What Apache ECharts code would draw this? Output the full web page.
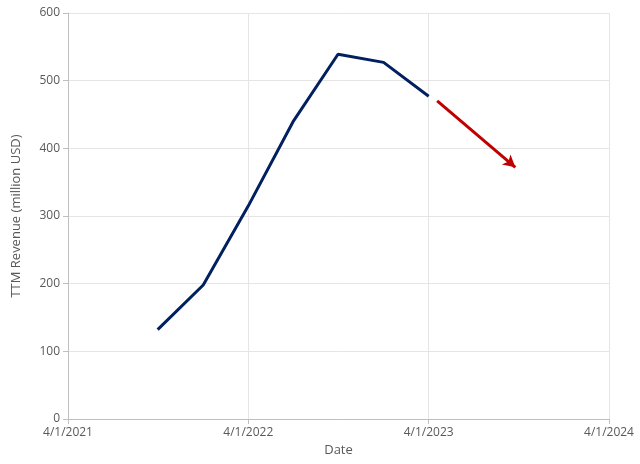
<!DOCTYPE html>
<html><head><meta charset="utf-8">
<script src="https://cdn.jsdelivr.net/npm/echarts@6/dist/echarts.min.js"></script>
<style>html,body{margin:0;padding:0;background:#fff}#c{width:640px;height:464px}</style>
</head><body><div id="c"></div>
<script>
const dates = ['9/30/2021','12/31/2021','3/31/2022','6/30/2022','9/30/2022','12/31/2022','3/31/2023'];
const revenue = [132, 198, 315, 439, 539, 527, 477];
const arrowDates = ['4/18/2023','9/24/2023'];
const arrowValues = [470, 372];
const xTickYears = [2021, 2022, 2023, 2024];

function toMonths(s){const [m,d,y]=s.split('/').map(Number);return (y-2021)*12+(m-4)+(d-1)/30;}
const chart = echarts.init(document.getElementById('c'));
const font = 'Open Sans';
chart.setOption({
  animation:false,
  grid:{left:68,right:31,top:13,bottom:45},
  xAxis:{type:'value',min:0,max:36,interval:12,name:'Date',nameLocation:'middle',nameGap:25,
    nameTextStyle:{color:'#595959',fontSize:13,fontFamily:font},
    axisLine:{lineStyle:{color:'#bfbfbf'}},axisTick:{show:true,lineStyle:{color:'#bfbfbf'}},
    splitLine:{show:true,lineStyle:{color:'#e5e5e5'}},
    axisLabel:{color:'#595959',fontSize:12,fontFamily:font,formatter:v=>'4/1/'+xTickYears[Math.round(v/12)]}},
  yAxis:{type:'value',min:0,max:600,interval:100,name:'TTM Revenue (million USD)',nameLocation:'middle',nameGap:45,
    nameTextStyle:{color:'#595959',fontSize:13,fontFamily:font},
    axisLine:{show:true,lineStyle:{color:'#bfbfbf'}},
    splitLine:{lineStyle:{color:'#e5e5e5'}},
    axisLabel:{color:'#595959',fontSize:12,fontFamily:font}},
  series:[{type:'line',data:dates.map((d,i)=>[toMonths(d),revenue[i]]),showSymbol:false,
    lineStyle:{color:'#002060',width:3},
    markLine:{silent:true,symbol:['none','arrow'],symbolSize:[10,12],label:{show:false},
      lineStyle:{color:'#c00000',width:3,type:'solid'},
      data:[[{coord:[toMonths(arrowDates[0]),arrowValues[0]]},{coord:[toMonths(arrowDates[1]),arrowValues[1]]}]]}}]
});
</script></body></html>
